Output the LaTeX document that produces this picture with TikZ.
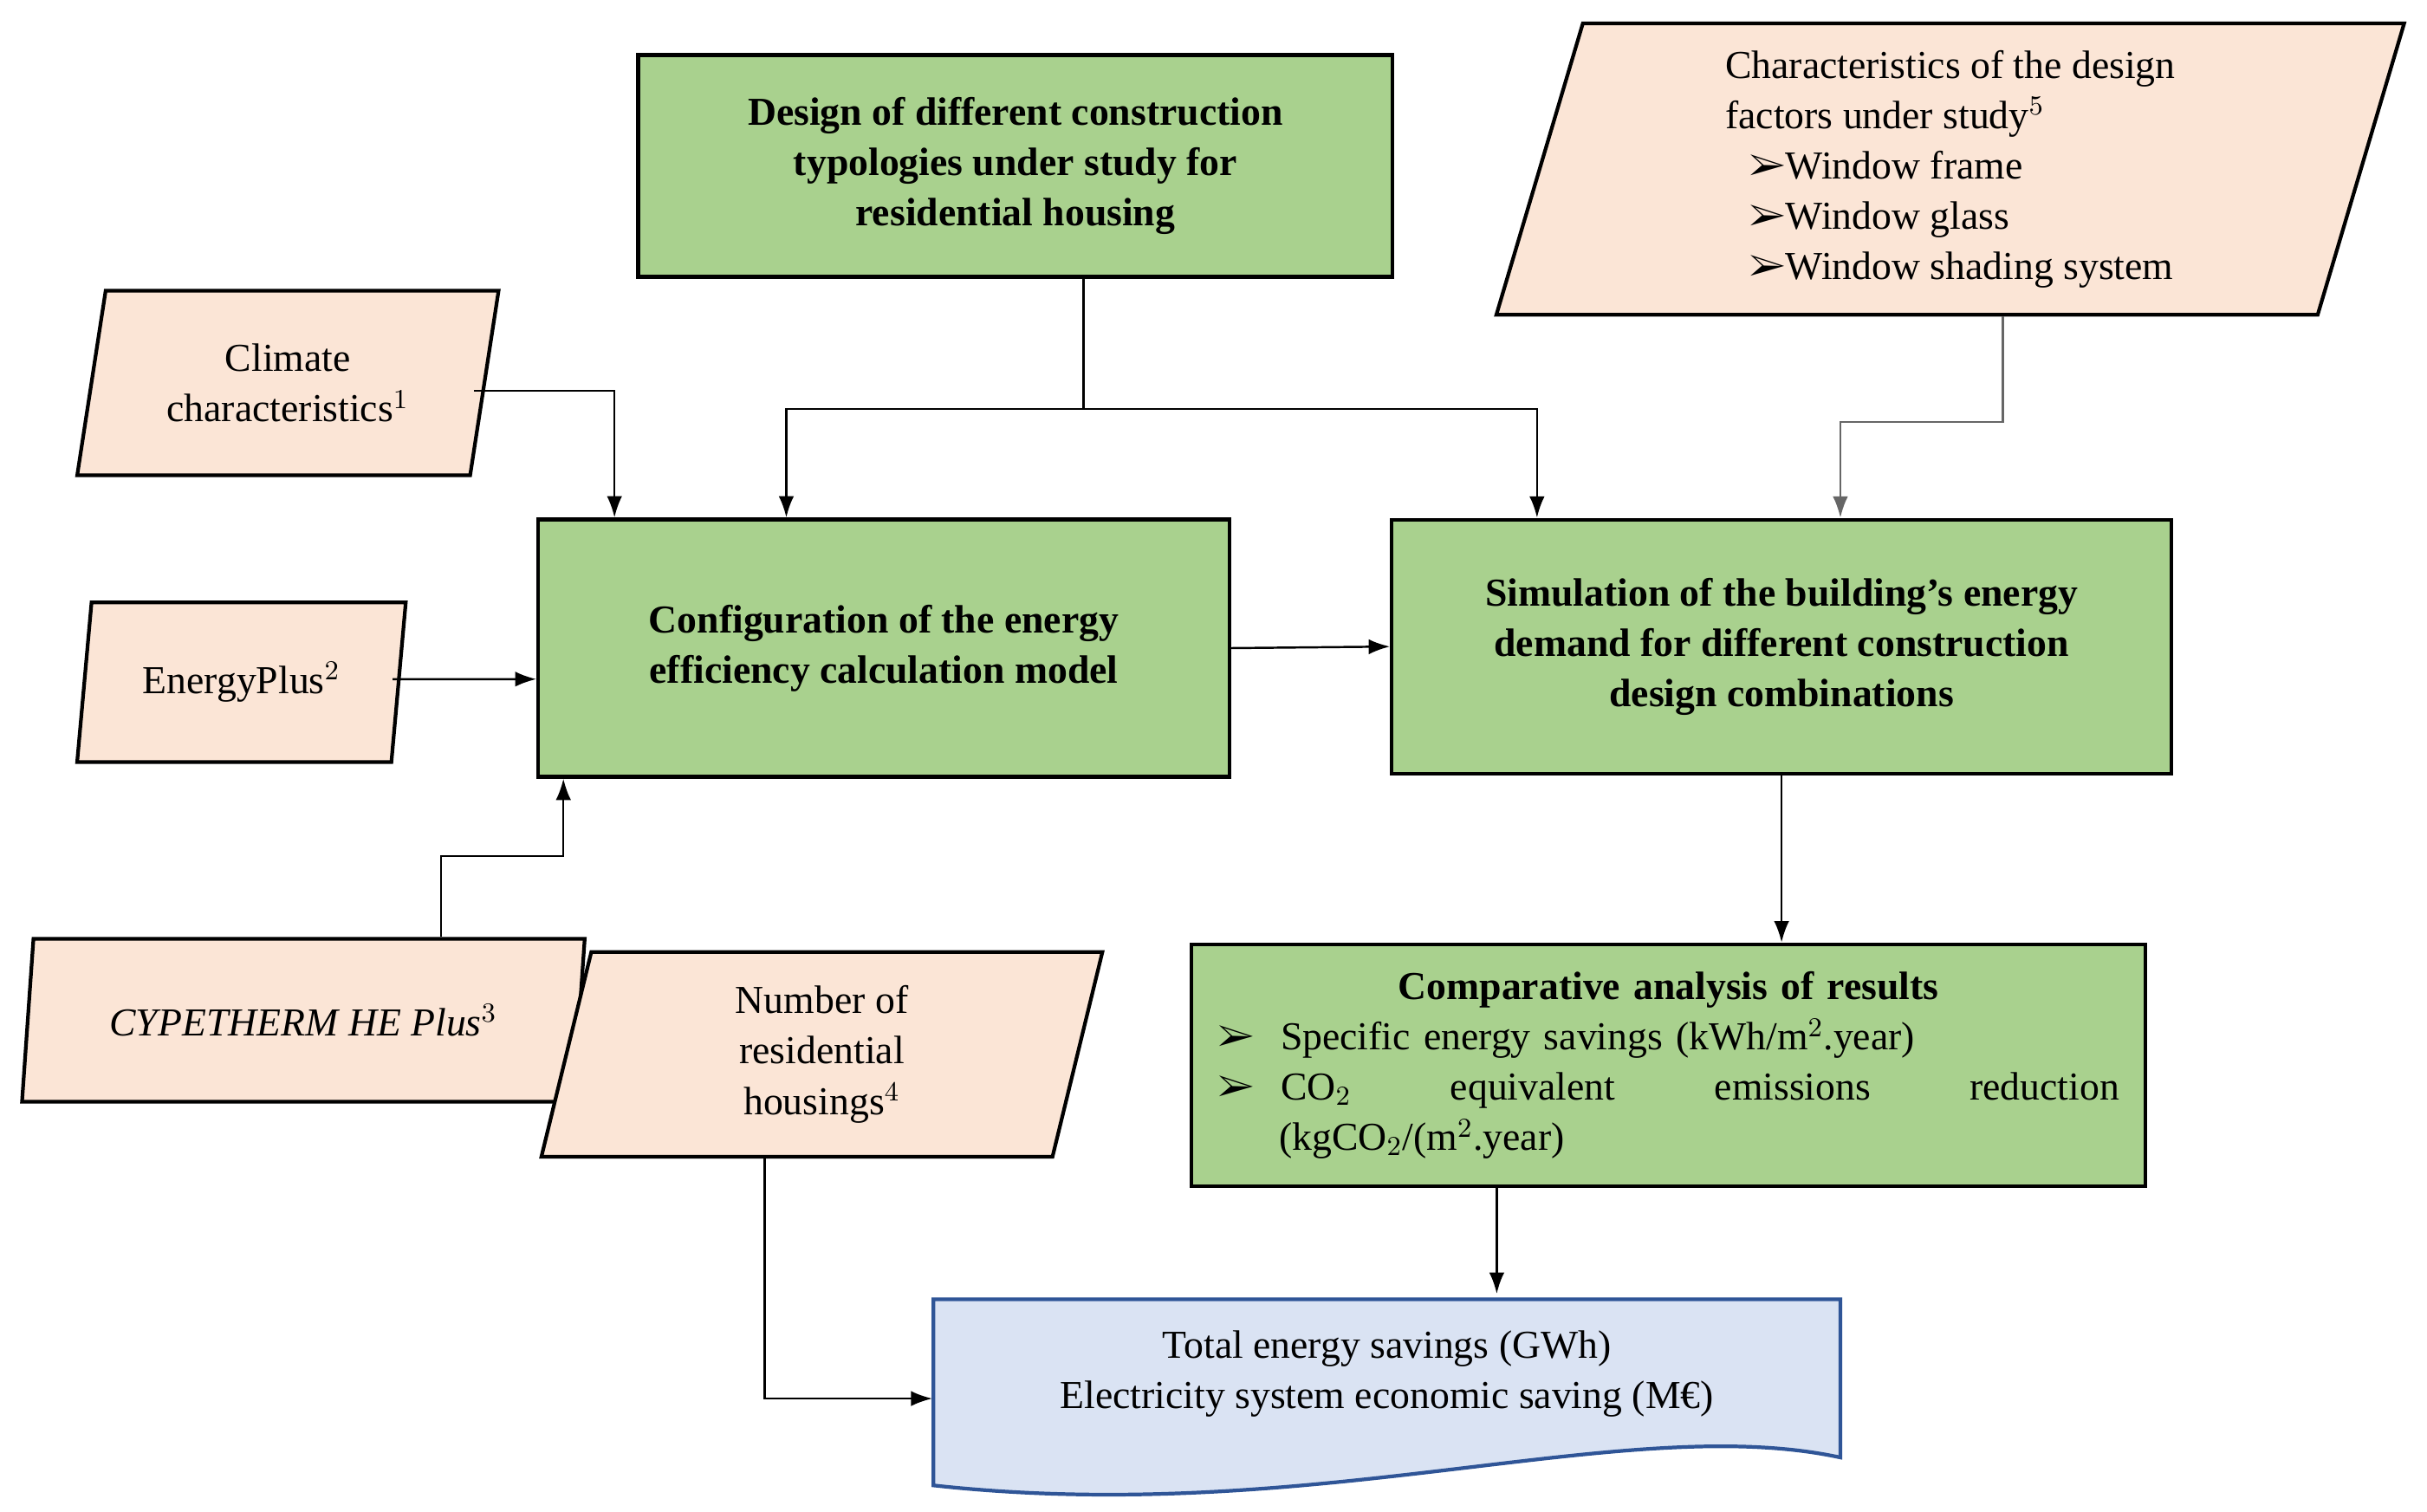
\documentclass[tikz,border=0pt]{standalone}
\usepackage{fontspec}
\setmainfont{Liberation Serif}
\usepackage{pifont}
\usetikzlibrary{shapes.geometric,arrows.meta,calc}
\definecolor{boxgreen}{HTML}{A9D18E}
\definecolor{boxpink}{HTML}{FBE5D6}
\definecolor{boxblue}{HTML}{DAE3F3}
\definecolor{blueline}{HTML}{2F5597}
\tikzset{
  proc/.style={draw=black, line width=1.2pt, fill=boxgreen, align=center,
    inner sep=0pt, font=\fontsize{13}{16.5}\selectfont\bfseries},
  data/.style={draw=black, line width=1.2pt, fill=boxpink, align=center,
    trapezium, trapezium left angle=70, trapezium right angle=110,
    trapezium stretches body, inner sep=0pt,
    font=\fontsize{13}{16.5}\selectfont},
  link/.style={line width=0.7pt, -{Latex[length=7pt,width=5pt]}}
}
\begin{document}
\begin{tikzpicture}[x=0.01786cm,y=-0.01789cm]
\useasboundingbox (0,0) rectangle (1568,975);
% process boxes
\node[proc, minimum width=8.70cm, minimum height=2.56cm] (des) at (656,107)
  {Design of different construction\\typologies under study for\\residential housing};
\node[proc, minimum width=7.97cm, minimum height=2.97cm] (cfg) at (571,418)
  {Configuration of the energy\\efficiency calculation model};
\node[proc, minimum width=8.99cm, minimum height=2.93cm] (sim) at (1151,417)
  {Simulation of the building's energy\\demand for different construction\\design combinations};
\node[proc, minimum width=11.0cm, minimum height=2.79cm, align=left,
  text width=10.4cm, font=\fontsize{13}{16.5}\selectfont] (cmp) at (1078,687)
  {{\centering\bfseries Comparative analysis of results\par}
   \ding{226}\ \ Specific energy savings (kWh/m$^2$.year)\par
   \ding{226}\ \ CO$_2$\hfill equivalent\hfill emissions\hfill reduction\par
   \hspace*{1.55em}(kgCO$_2$/(m$^2$.year)};
% inputs
\node[data, minimum width=4.86cm, minimum height=2.13cm] (clim) at (186,247)
  {Climate\\characteristics$^1$};
\node[data, minimum width=3.79cm, minimum height=1.84cm] (eplus) at (156,440)
  {EnergyPlus$^2$};
\node[data, minimum width=6.49cm, minimum height=1.88cm] (cype) at (196,658)
  {\itshape CYPETHERM HE Plus$^3$};
\node[data, minimum width=6.47cm, minimum height=2.36cm] (num) at (531,680)
  {Number of\\residential\\housings$^4$};
\node[data, minimum width=10.47cm, minimum height=3.36cm, align=left] (chr) at (1260,109)
  {Characteristics of the design\\factors under study$^5$\\
   \hspace*{0.6em}\ding{226}Window frame\\
   \hspace*{0.6em}\ding{226}Window glass\\
   \hspace*{0.6em}\ding{226}Window shading system};
% output document shape
\draw[line width=1.2pt, draw=blueline, fill=boxblue] (603,838) -- (1189,838) -- (1189,940)
  .. controls (1050,910) and (850,985) .. (603,958) -- cycle;
\node[minimum width=10.47cm, minimum height=1.83cm, align=center, inner sep=0pt,
  font=\fontsize{13}{16.5}\selectfont] (tot) at (896,886)
  {Total energy savings (GWh)\\Electricity system economic saving (M€)};
% connectors
\coordinate (split) at ($(des.south)+(44,84)$);
\draw[line width=0.7pt] ($(des.south)+(44,0)$) -- (split);
\draw[link] (split) -| ($(cfg.north)+(-63,0)$);
\draw[link] (split) -| ($(sim.north)+(-158,0)$);
\draw[link] ($(clim.east)+(-8,5)$) -| ($(cfg.north)+(-174,0)$);
\draw[link] ($(eplus.east)+(-5,-2)$) -- (cfg.west |- {0,438});
\draw[link] (cype.north -| {285,0}) |- (364,552) -- ($(cfg.south)+(-207,0)$);
\draw[link] (cfg.east) -- (sim.west);
\draw[link, draw=gray!80!black] (chr.south -| {1294,0}) |- (1189,272) -- ($(sim.north)+(38,0)$);
\draw[link] (sim.south) -- (cmp.north -| sim.south);
\draw[link] ($(cmp.south)+(-111,0)$) -- ($(tot.north)+(71,0)$);
\draw[link] (num.south -| {494,0}) |- ($(tot.west)+(0,16)$);
\end{tikzpicture}
\end{document}
